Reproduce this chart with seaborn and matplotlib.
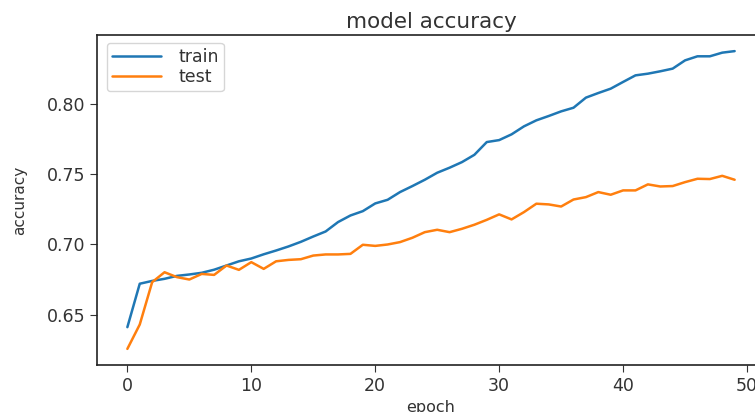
import numpy as np
import pandas as pd
import seaborn as sns
import matplotlib.pyplot as plt

# accuracy per epoch
epochs = list(range(50))
train_acc = [0.641, 0.672, 0.674, 0.6755, 0.6776, 0.6786, 0.6798, 0.682, 0.685, 0.688,
             0.690, 0.693, 0.6957, 0.6986, 0.7019, 0.7057, 0.7093, 0.716, 0.7207, 0.7238,
             0.7293, 0.7319, 0.7374, 0.7417, 0.7462, 0.7512, 0.7548, 0.7588, 0.764, 0.7731,
             0.7745, 0.7786, 0.7843, 0.7886, 0.7917, 0.795, 0.7976, 0.8048, 0.8081, 0.8112,
             0.816, 0.8207, 0.8219, 0.8236, 0.8255, 0.8314, 0.8343, 0.8343, 0.8369, 0.838]
test_acc = [0.6255, 0.6429, 0.6731, 0.6802, 0.6767, 0.675, 0.679, 0.6783, 0.685, 0.6819,
            0.6874, 0.6826, 0.688, 0.689, 0.6895, 0.6921, 0.6929, 0.6929, 0.6933, 0.6998,
            0.699, 0.700, 0.7017, 0.7048, 0.7088, 0.7105, 0.7088, 0.7112, 0.7141, 0.7176,
            0.7215, 0.7179, 0.7231, 0.7291, 0.7286, 0.7271, 0.7321, 0.7338, 0.7374, 0.7355,
            0.7386, 0.7386, 0.7429, 0.7414, 0.7417, 0.7445, 0.7469, 0.7467, 0.749, 0.7462]
series_names = ['train', 'test']
line_colors = ['#1f77b4', '#ff7f0e']

df = pd.DataFrame({
    'epoch': epochs * 2,
    'accuracy': train_acc + test_acc,
    'set': ['train'] * len(epochs) + ['test'] * len(epochs),
})

sns.set_style('ticks')
text_color = '#333333'

fig = plt.figure(figsize=(7.55, 4.12), dpi=100)
# right edge of the axes sits a little past the picture, as in the reference crop
ax = fig.add_axes([97 / 755, 1 - 365 / 412, 668 / 755, 330 / 412])

sns.lineplot(data=df, x='epoch', y='accuracy', hue='set', hue_order=series_names,
             palette=line_colors, linewidth=1.8, ax=ax)

ax.set_xlim(-2.45, 51.45)
ax.set_ylim(0.614, 0.8495)
ax.set_xticks([0, 10, 20, 30, 40, 50])
ax.set_yticks([0.65, 0.70, 0.75, 0.80])
ax.set_yticklabels(['0.65', '0.70', '0.75', '0.80'])
ax.tick_params(labelsize=12.5, colors=text_color, length=5)
for sp in ax.spines.values():
    sp.set_color('#222222')
    sp.set_linewidth(1.2)

ax.set_title('model accuracy', fontsize=15.5, color=text_color, pad=5)
ax.set_xlabel('epoch', fontsize=11.5, color=text_color, labelpad=4)
ax.set_ylabel('accuracy', fontsize=11, color=text_color, labelpad=14)

leg = ax.legend(loc='upper left', fontsize=12.5, frameon=True, handlelength=2.8,
                handletextpad=1.0, labelspacing=0.12, borderpad=0.3,
                borderaxespad=0, bbox_to_anchor=(0.015, 0.976))
for t in leg.get_texts():
    t.set_color(text_color)

plt.savefig('out.png', dpi=100)
plt.close()
